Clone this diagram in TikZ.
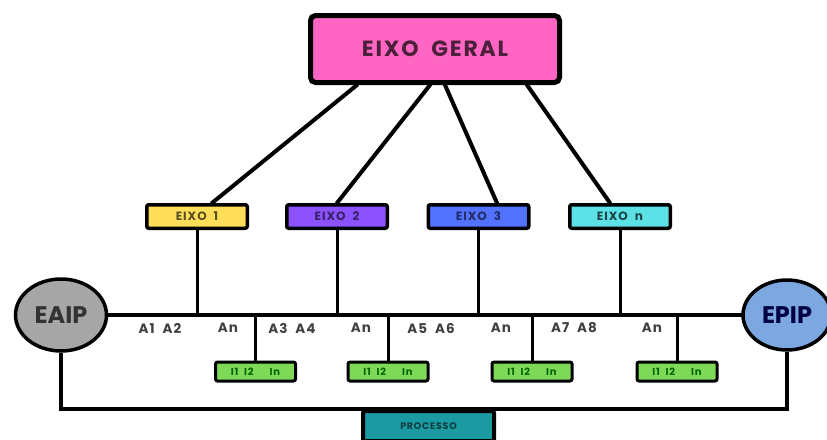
\documentclass[tikz,border=0pt]{standalone}
\usepackage{fontspec}
\usetikzlibrary{shapes.geometric}
\setmainfont{Poppins}
\newfontfamily\spaced[LetterSpace=8,WordSpace=2]{Poppins}
\definecolor{rosa}{HTML}{FF66C4}
\definecolor{amarelo}{HTML}{FFDE59}
\definecolor{roxo}{HTML}{8C52FF}
\definecolor{azul}{HTML}{5271FF}
\definecolor{ciano}{HTML}{5CE1E6}
\definecolor{verde}{HTML}{7ED957}
\definecolor{petroleo}{HTML}{1B9AA2}
\definecolor{cinza}{HTML}{A6A6A6}
\definecolor{celeste}{HTML}{7DA7E0}
\begin{document}
\begin{tikzpicture}[x=1pt,y=-1pt,line cap=round,
	eixobox/.style={draw,line width=3.5pt,rounded corners=2pt,inner sep=0pt,minimum width=100.5pt,minimum height=23.5pt,font=\spaced\bfseries\fontsize{12}{13}\selectfont},
	indbox/.style={draw,line width=3pt,rounded corners=2pt,fill=verde,inner sep=0pt,minimum width=80pt,minimum height=19pt,text=green!40!black,font=\spaced\bfseries\fontsize{10}{11}\selectfont},
	estado/.style={draw,ellipse,line width=3.5pt,inner sep=0pt,font=\bfseries\fontsize{24}{26}\selectfont},
	alabel/.style={text=black!75,font=\spaced\bfseries\fontsize{13.5}{15}\selectfont}]
	\useasboundingbox (0,0) rectangle (827,439);
	% nos
	\node[draw,line width=5pt,rounded corners=5pt,fill=rosa,minimum width=249pt,minimum height=67pt,inner sep=0pt,text=rosa!30!black,font=\spaced\bfseries\fontsize{22}{24}\selectfont] (geral) at (435,49) {EIXO GERAL};
	\node[eixobox,fill=amarelo,text=amarelo!35!black] (e1) at (197,216.5) {EIXO 1};
	\node[eixobox,fill=roxo,text=roxo!40!black] (e2) at (337,216.5) {EIXO 2};
	\node[eixobox,fill=azul,text=azul!40!black] (e3) at (478.5,216.5) {EIXO 3};
	\node[eixobox,fill=ciano,text=ciano!30!black] (en) at (620,216.5) {EIXO n};
	\node[estado,fill=cinza,text=black!80,minimum width=91pt,minimum height=72pt] (eaip) at (61,315) {EAIP};
	\node[estado,fill=celeste,text=blue!25!black,minimum width=88pt,minimum height=70pt] (epip) at (787,315) {EPIP};
	\node[indbox] (i1) at (255.5,371.5) {I1 I2\hspace{16pt}In};
	\node[indbox] (i2) at (388,371.5) {I1 I2\hspace{16pt}In};
	\node[indbox] (i3) at (532,371.5) {I1 I2\hspace{16pt}In};
	\node[indbox] (i4) at (677,371.5) {I1 I2\hspace{16pt}In};
	\node[draw,line width=4pt,rounded corners=2pt,fill=petroleo,minimum width=131pt,minimum height=30pt,inner sep=0pt,text=petroleo!40!black,font=\spaced\bfseries\fontsize{9.5}{10}\selectfont] (proc) at (428.5,426) {PROCESSO};
	% rotulos
	\node[alabel] (a12) at (160,328) {A1 A2};
	\node[alabel] (an1) at (228,328) {An};
	\node[alabel] (a34) at (292,328) {A3 A4};
	\node[alabel] (an2) at (361,328) {An};
	\node[alabel] (a56) at (431,328) {A5 A6};
	\node[alabel] (an3) at (501,328) {An};
	\node[alabel] (a78) at (574,328) {A7 A8};
	\node[alabel] (an4) at (652,328) {An};
	% ligacoes
	\draw[line width=4pt] ([xshift=-78pt]geral.south) -- ([xshift=15pt]e1.north);
	\draw[line width=4pt] ([xshift=-5pt]geral.south) -- (e2.north);
	\draw[line width=4pt] ([xshift=10pt]geral.south) -- ([xshift=18.5pt]e3.north);
	\draw[line width=4pt] ([xshift=92pt]geral.south) -- ([xshift=-10pt]en.north);
	\draw[line width=3.5pt] (eaip.east) -- (epip.west);
	\draw[line width=3pt] (e1.south) -- (e1.south |- eaip.east);
	\draw[line width=3pt] (e2.south) -- (e2.south |- eaip.east);
	\draw[line width=3pt] (e3.south) -- (e3.south |- eaip.east);
	\draw[line width=3pt] (en.south) -- (en.south |- eaip.east);
	\draw[line width=3pt] (i1.north) -- (i1.north |- eaip.east);
	\draw[line width=3pt] (i2.north) -- (i2.north |- eaip.east);
	\draw[line width=3pt] (i3.north) -- (i3.north |- eaip.east);
	\draw[line width=3pt] (i4.north) -- (i4.north |- eaip.east);
	\draw[line width=4pt,line cap=butt] (eaip.south) |- (proc.north) -| (epip.south);
\end{tikzpicture}
\end{document}
